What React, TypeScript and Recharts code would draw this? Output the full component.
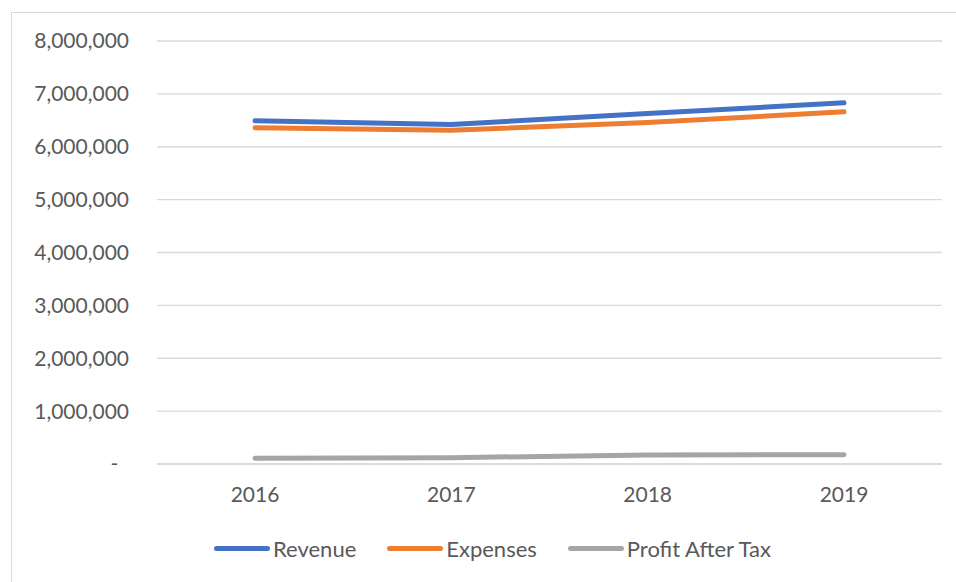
import { LineChart, Line, XAxis, YAxis, CartesianGrid, Legend } from 'recharts'

const years = ['2016', '2017', '2018', '2019']
const revenue = [6490000, 6420000, 6630000, 6830000]
const expenses = [6360000, 6310000, 6460000, 6660000]
const profitAfterTax = [110000, 120000, 170000, 175000]
const yTicks = [0, 1000000, 2000000, 3000000, 4000000, 5000000, 6000000, 7000000, 8000000]

const series = [
  { key: 'revenue', name: 'Revenue', color: '#4472C4' },
  { key: 'expenses', name: 'Expenses', color: '#ED7D31' },
  { key: 'profit', name: 'Profit After Tax', color: '#A5A5A5' },
]

const data = years.map((year, i) => ({
  year,
  revenue: revenue[i],
  expenses: expenses[i],
  profit: profitAfterTax[i],
}))

const font = 'Lato, "Open Sans", sans-serif'
const textColor = '#595959'

const fmt = (v: number) => (v === 0 ? '-\u00A0\u00A0' : v.toLocaleString('en-US'))

function LegendRow() {
  return (
    <div style={{ display: 'flex', alignItems: 'center', height: 26, paddingLeft: 202, fontFamily: font, fontSize: 22, color: textColor }}>
      {series.map((s, i) => (
        <div key={s.key} style={{ display: 'flex', alignItems: 'center', marginRight: i < series.length - 1 ? 31 : 0 }}>
          <span style={{ display: 'inline-block', width: 56, height: 5, borderRadius: 3, background: s.color, marginRight: 3 }} />
          <span>{s.name}</span>
        </div>
      ))}
    </div>
  )
}

export default function App() {
  // chart frame runs off the right and bottom edges, like the cropped screenshot
  return (
    <div style={{
      position: 'absolute', left: 11, top: 12, width: 944, height: 569, overflow: 'hidden',
      borderTop: '1px solid #d9d9d9', borderLeft: '1px solid #d9d9d9', background: '#fff',
    }}>
      <LineChart width={944} height={580} data={data} margin={{ top: 28, right: 14, left: 0, bottom: 73 }}>
        <CartesianGrid vertical={false} stroke="#d9d9d9" strokeWidth={1.3} />
        <XAxis dataKey="year" padding={{ left: 98, right: 98 }} axisLine={{ stroke: '#d9d9d9', strokeWidth: 1.3 }}
          tickLine={false} tickSize={0} tickMargin={23}
          tick={{ fill: textColor, fontSize: 21, fontFamily: font }} />
        <YAxis domain={[0, 8000000]} ticks={yTicks} width={145} axisLine={false} tickLine={false}
          tickSize={0} tickMargin={28} tickFormatter={fmt} interval={0}
          tick={{ fill: textColor, fontSize: 21, fontFamily: font }} />
        <Legend content={() => <LegendRow />} wrapperStyle={{ top: 522, left: 0, width: 944 }} />
        {series.map((s) => (
          <Line key={s.key} type="linear" dataKey={s.key} name={s.name} stroke={s.color} strokeWidth={5}
            strokeLinecap="round" strokeLinejoin="round" dot={false} activeDot={false} isAnimationActive={false} />
        ))}
      </LineChart>
    </div>
  )
}
